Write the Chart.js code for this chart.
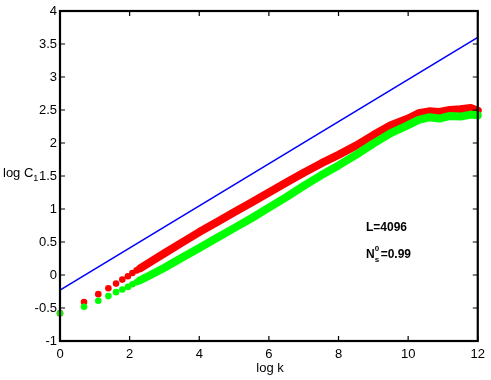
<!DOCTYPE html>
<html>
<head>
<meta charset="utf-8">
<script src="https://cdn.jsdelivr.net/npm/chart.js@4"></script>
<style>
  body { margin: 0; background: #fff; }
  #wrap { position: relative; width: 491px; height: 380px; }
  .lbl { position: absolute; font-family: "Liberation Sans", Arial, sans-serif; color: #000; white-space: nowrap; line-height: 1; }
  .lbl sub { font-size: 9px; line-height: 0; }
  .idx { display: inline-block; position: relative; width: 6px; height: 12px; vertical-align: top; }
  .idx span { position: absolute; left: 0; font-size: 8px; }
</style>
</head>
<body>
<div id="wrap">
  <canvas id="chart" width="491" height="380"></canvas>
  <div class="lbl" style="left:3px; top:166px; font-size:13px;">log C<sub>1</sub></div>
  <div class="lbl" style="left:270px; top:361px; font-size:13px; transform:translateX(-50%);">log k</div>
  <div class="lbl" style="left:366px; top:221px; font-size:12px; font-weight:bold;">L=4096</div>
  <div class="lbl" style="left:366px; top:248px; font-size:12px; font-weight:bold;">N<span class="idx"><span style="top:-3px;">0</span><span style="top:8px;">s</span></span>=0.99</div>
</div>
<script>
  // reference line
  const blueLogK = [0, 12];
  const blueLogC = [-0.23, 3.6];

  // first few k values, drawn as separate dots
  const earlyLogK = [0, 0.69, 1.1, 1.39, 1.61, 1.79, 1.95, 2.08, 2.2];
  const earlyRed = [-0.58, -0.41, -0.29, -0.2, -0.13, -0.07, -0.02, 0.03, 0.07];
  const earlyGreen = [-0.58, -0.48, -0.39, -0.32, -0.26, -0.22, -0.18, -0.14, -0.11];

  // dense part, where the dots merge into a band
  const bandLogK = [2.3, 2.6, 3, 3.5, 4, 4.5, 5, 5.5, 6, 6.5, 7, 7.5, 8, 8.5, 9, 9.5, 10, 10.3, 10.6, 10.9, 11.2, 11.5, 11.8, 12];
  const bandRed = [0.1, 0.2, 0.33, 0.49, 0.65, 0.8, 0.95, 1.1, 1.25, 1.4, 1.55, 1.69, 1.82, 1.96, 2.12, 2.27, 2.37, 2.45, 2.48, 2.47, 2.5, 2.51, 2.53, 2.49];
  const bandGreen = [-0.08, 0, 0.11, 0.26, 0.41, 0.56, 0.71, 0.86, 1.02, 1.18, 1.35, 1.51, 1.66, 1.82, 1.99, 2.15, 2.27, 2.35, 2.39, 2.37, 2.41, 2.4, 2.43, 2.42];

  const xTicks = [0, 2, 4, 6, 8, 10, 12];
  const yTicks = [-1, -0.5, 0, 0.5, 1, 1.5, 2, 2.5, 3, 3.5, 4];

  const zip = (xs, ys) => xs.map((x, i) => ({ x, y: ys[i] }));

  const FONT = { family: '"Liberation Sans", Arial, sans-serif', size: 13 };

  // box round the plot with inward ticks on all four sides
  const boxPlugin = {
    id: "box",
    afterDraw(chart) {
      const { ctx, chartArea: a, scales } = chart;
      ctx.save();
      ctx.strokeStyle = "#000";
      ctx.lineWidth = 1.2;
      ctx.beginPath();
      xTicks.forEach((v) => {
        const px = scales.x.getPixelForValue(v);
        ctx.moveTo(px, a.bottom);
        ctx.lineTo(px, a.bottom - 5);
        ctx.moveTo(px, a.top);
        ctx.lineTo(px, a.top + 5);
      });
      yTicks.forEach((v) => {
        const py = scales.y.getPixelForValue(v);
        ctx.moveTo(a.left, py);
        ctx.lineTo(a.left + 5, py);
        ctx.moveTo(a.right, py);
        ctx.lineTo(a.right - 5, py);
      });
      ctx.stroke();
      ctx.lineWidth = 2.2;
      ctx.strokeRect(a.left, a.top, a.right - a.left, a.bottom - a.top);
      ctx.restore();
    },
  };

  new Chart(document.getElementById("chart"), {
    type: "scatter",
    data: {
      datasets: [
        {
          data: zip(blueLogK, blueLogC),
          showLine: true,
          borderColor: "#0000ff",
          borderWidth: 1.6,
          pointRadius: 0,
          order: 0,
        },
        {
          data: zip(bandLogK, bandRed),
          showLine: true,
          borderColor: "#ff0000",
          borderWidth: 8,
          borderCapStyle: "round",
          borderJoinStyle: "round",
          pointRadius: 0,
          order: 4,
        },
        {
          data: zip(earlyLogK, earlyRed),
          backgroundColor: "#ff0000",
          borderWidth: 0,
          pointRadius: 3.3,
          order: 3,
        },
        {
          data: zip(bandLogK, bandGreen),
          showLine: true,
          borderColor: "#00ff00",
          borderWidth: 8,
          borderCapStyle: "round",
          borderJoinStyle: "round",
          pointRadius: 0,
          order: 2,
        },
        {
          data: zip(earlyLogK, earlyGreen),
          backgroundColor: "#00ff00",
          borderWidth: 0,
          pointRadius: 3.3,
          order: 1,
        },
      ],
    },
    options: {
      responsive: false,
      animation: false,
      clip: false,
      layout: { padding: { top: 11, right: 13, left: 0, bottom: 0 } },
      plugins: { legend: { display: false }, tooltip: { enabled: false } },
      scales: {
        x: {
          type: "linear",
          min: 0,
          max: 12,
          afterFit: (s) => { s.height = 39; },
          afterBuildTicks: (s) => { s.ticks = xTicks.map((v) => ({ value: v })); },
          grid: { display: false, drawTicks: false },
          border: { display: false },
          ticks: { color: "#000", font: FONT, padding: 6, maxRotation: 0, callback: (v) => String(v) },
        },
        y: {
          type: "linear",
          min: -1,
          max: 4,
          afterFit: (s) => { s.width = 60; },
          afterBuildTicks: (s) => { s.ticks = yTicks.map((v) => ({ value: v })); },
          grid: { display: false, drawTicks: false },
          border: { display: false },
          ticks: { color: "#000", font: FONT, padding: 3, callback: (v) => String(v) },
        },
      },
    },
    plugins: [boxPlugin],
  });
</script>
</body>
</html>
